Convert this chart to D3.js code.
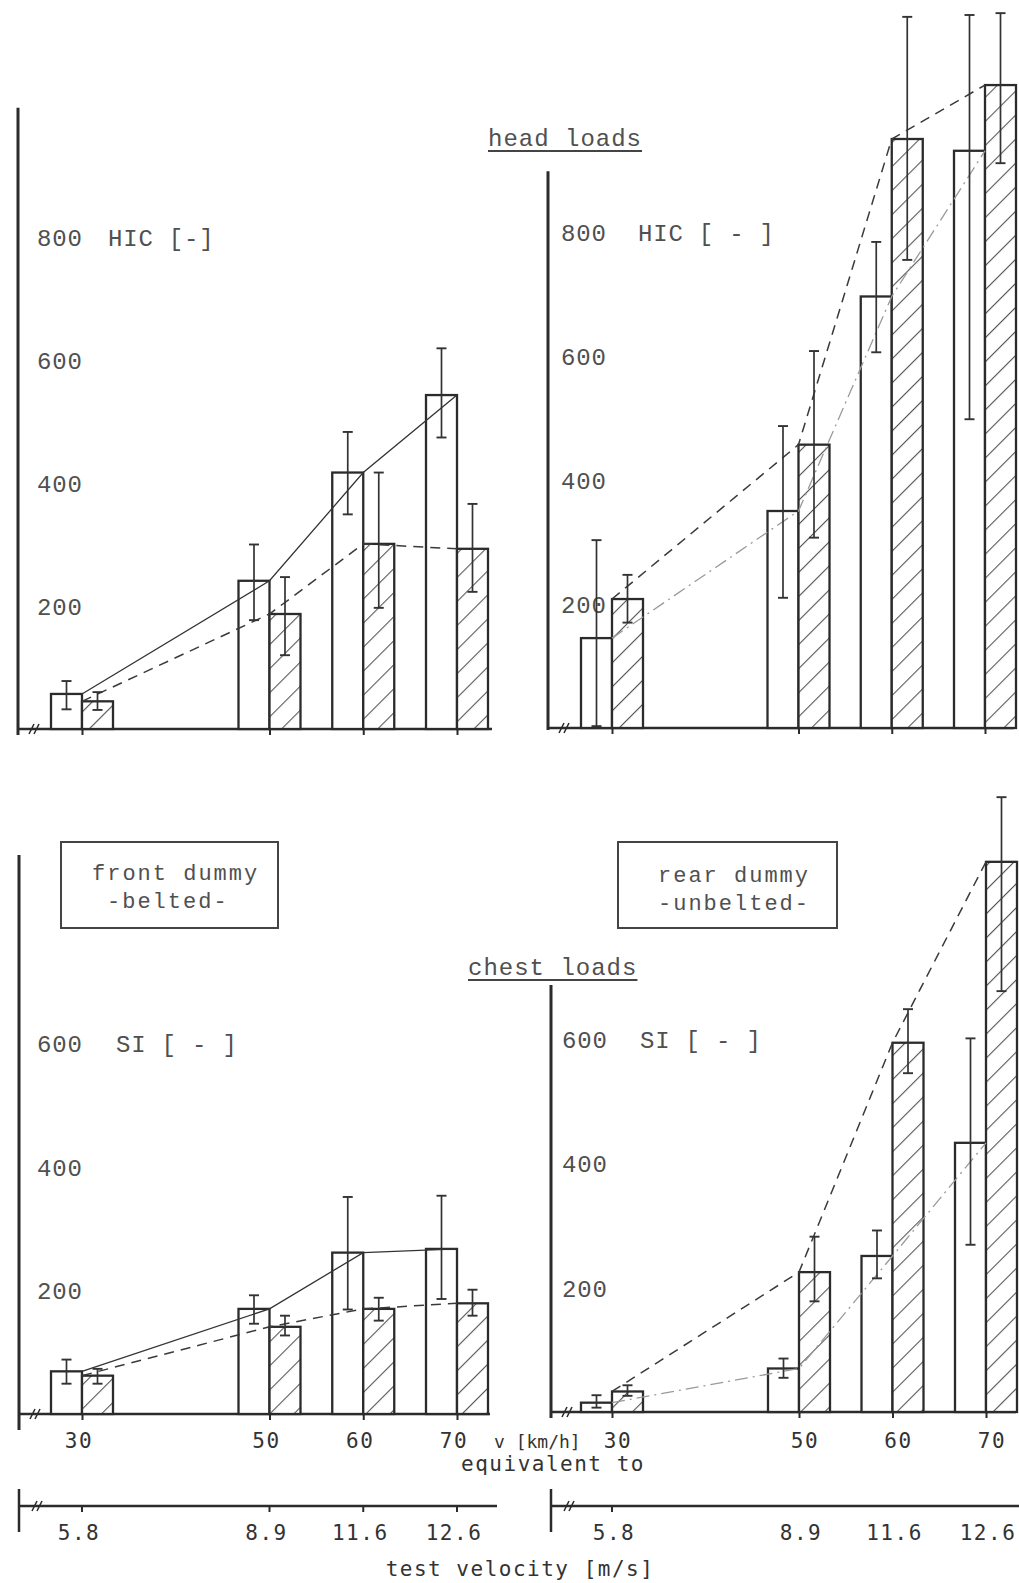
<!DOCTYPE html>
<html><head><meta charset="utf-8">
<script src="https://cdn.jsdelivr.net/npm/d3@7"></script>
<style>
html,body{margin:0;padding:0;background:#fff;}
svg{display:block;}
</style></head><body>
<svg id="chart" width="1019" height="1583"></svg>
<script>
// ---- data -------------------------------------------------------------
const speeds = [30, 50, 60, 70];              // impact speed, km/h
const speedLabels = ["30", "50", "60", "70"];
const mpsLabels = ["5.8", "8.9", "11.6", "12.6"]; // test velocity, m/s
const hicTicks = [200, 400, 600, 800];
const siTicks = [200, 400, 600];

// HIC, front dummy (belted)
const hicFrontOpen        = [57, 241, 417, 543];
const hicFrontOpenLow     = [32, 177, 349, 474];
const hicFrontOpenHigh    = [78, 300, 483, 619];
const hicFrontHatched     = [45, 187, 301, 293];
const hicFrontHatchedLow  = [31, 120, 197, 223];
const hicFrontHatchedHigh = [60, 247, 417, 366];

// HIC, rear dummy (unbelted)
const hicRearOpen        = [145, 350, 696, 931];
const hicRearOpenLow     = [3, 210, 606, 498];
const hicRearOpenHigh    = [303, 487, 784, 1150];
const hicRearHatched     = [208, 457, 950, 1037];
const hicRearHatchedLow  = [170, 307, 755, 911];
const hicRearHatchedHigh = [247, 608, 1147, 1153];

// SI, front dummy (belted)
const siFrontOpen        = [69, 170, 261, 267];
const siFrontOpenLow     = [49, 146, 169, 186];
const siFrontOpenHigh    = [88, 192, 351, 353];
const siFrontHatched     = [62, 141, 170, 179];
const siFrontHatchedLow  = [49, 127, 151, 159];
const siFrontHatchedHigh = [73, 159, 188, 201];

// SI, rear dummy (unbelted)
const siRearOpen        = [15, 70, 251, 433];
const siRearOpenLow     = [7, 55, 215, 269];
const siRearOpenHigh    = [27, 86, 292, 601];
const siRearHatched     = [33, 225, 594, 885];
const siRearHatchedLow  = [26, 178, 545, 677];
const siRearHatchedHigh = [43, 282, 648, 989];

// ---- drawing ----------------------------------------------------------
const INK = "#2b2b2b";
const TEXT = "#505050";
const MONO = "'Liberation Mono', 'Courier New', monospace";
const MONO2 = "'DejaVu Sans Mono', monospace";
const BAR_W = 31;

const svg = d3.select("#chart");

// diagonal hatching for the second bar of each pair
const defs = svg.append("defs");
const pat = defs.append("pattern")
  .attr("id", "hatch").attr("patternUnits", "userSpaceOnUse")
  .attr("width", 17).attr("height", 17)
  .attr("patternTransform", "rotate(45)");
pat.append("rect").attr("width", 17).attr("height", 17).attr("fill", "#fff");
pat.append("line").attr("x1", 0).attr("y1", 0).attr("x2", 0).attr("y2", 17)
  .attr("stroke", "#555").attr("stroke-width", 2.2);

const styles = {
  solid:   {stroke: "#333", width: 1.3, dash: null},
  dashed:  {stroke: "#3a3a3a", width: 1.5, dash: "10,7"},
  dashdot: {stroke: "#9a9a9a", width: 1.3, dash: "13,5,2,5"}
};

const panels = [
  { axisX: 18, axisTop: 1010, axisBottomPad: 6, xEnd: 492, xRange: [82, 457],
    yDomain: [0, 800], yRange: [729, 237], ticks: hicTicks,
    labelX: 37, unit: "HIC [-]", unitX: 108,
    open: [hicFrontOpen, hicFrontOpenLow, hicFrontOpenHigh],
    hatched: [hicFrontHatched, hicFrontHatchedLow, hicFrontHatchedHigh],
    openLine: "solid", hatchedLine: "dashed" },
  { axisX: 548, axisTop: 898, axisBottomPad: 2, xEnd: 1014, xRange: [612, 985],
    yDomain: [0, 800], yRange: [728, 232], ticks: hicTicks,
    labelX: 561, unit: "HIC [ - ]", unitX: 638,
    open: [hicRearOpen, hicRearOpenLow, hicRearOpenHigh],
    hatched: [hicRearHatched, hicRearHatchedLow, hicRearHatchedHigh],
    openLine: "dashdot", hatchedLine: "dashed" },
  { axisX: 19, axisTop: 904, axisBottomPad: 16, xEnd: 490, xRange: [82, 457],
    yDomain: [0, 600], yRange: [1414, 1043], ticks: siTicks,
    labelX: 37, unit: "SI [ - ]", unitX: 116,
    open: [siFrontOpen, siFrontOpenLow, siFrontOpenHigh],
    hatched: [siFrontHatched, siFrontHatchedLow, siFrontHatchedHigh],
    openLine: "solid", hatchedLine: "dashed" },
  { axisX: 551, axisTop: 687, axisBottomPad: 6, xEnd: 1016, xRange: [612, 986],
    yDomain: [0, 600], yRange: [1412, 1039], ticks: siTicks,
    labelX: 562, unit: "SI [ - ]", unitX: 640,
    open: [siRearOpen, siRearOpenLow, siRearOpenHigh],
    hatched: [siRearHatched, siRearHatchedLow, siRearHatchedHigh],
    openLine: "dashdot", hatchedLine: "dashed" }
];

function breakMark(g, x, y) {
  [0, 5].forEach(d => {
    g.append("line").attr("x1", x + d - 3).attr("y1", y + 5)
      .attr("x2", x + d + 2).attr("y2", y - 5)
      .attr("stroke", INK).attr("stroke-width", 1.6);
  });
}

panels.forEach(p => {
  const x = d3.scaleLinear().domain([30, 70]).range(p.xRange);
  const y = d3.scaleLinear().domain(p.yDomain).range(p.yRange);
  const g = svg.append("g");
  const y0 = y(0);

  // y axis: ticks to the left, labels to the right of the line
  const ax = g.append("g").attr("transform", `translate(${p.axisX},0)`)
    .call(d3.axisLeft(y).tickValues(p.ticks).tickSize(9).tickFormat(d3.format("d")));
  ax.select(".domain").remove();
  ax.selectAll(".tick line").attr("stroke", INK).attr("stroke-width", 3).attr("x2", -1);
  ax.selectAll(".tick text")
    .attr("x", p.labelX - p.axisX).attr("dy", "0.36em")
    .attr("text-anchor", "start")
    .attr("font-family", MONO).attr("font-size", 24).attr("letter-spacing", 0.8)
    .attr("fill", TEXT);
  g.append("line")
    .attr("x1", p.axisX).attr("x2", p.axisX)
    .attr("y1", y(p.axisTop)).attr("y2", y0 + p.axisBottomPad)
    .attr("stroke", INK).attr("stroke-width", 3);
  g.append("text")
    .attr("x", p.unitX).attr("y", y(p.ticks[p.ticks.length - 1])).attr("dy", "0.36em")
    .attr("font-family", MONO).attr("font-size", 24).attr("letter-spacing", 0.8)
    .attr("fill", TEXT)
    .attr("xml:space", "preserve").text(p.unit);

  // baseline with speed ticks
  const bx = g.append("g").attr("transform", `translate(0,${y0})`)
    .call(d3.axisBottom(x).tickValues(speeds).tickSize(6).tickFormat(""));
  bx.select(".domain").remove();
  bx.selectAll(".tick line").attr("stroke", INK).attr("stroke-width", 2);
  g.append("line").attr("x1", p.axisX).attr("x2", p.xEnd)
    .attr("y1", y0).attr("y2", y0).attr("stroke", INK).attr("stroke-width", 2.6);
  breakMark(g, p.axisX + 14, y0);

  // bars
  const rows = speeds.map((s, i) => ({
    s,
    o: p.open[0][i], oLo: p.open[1][i], oHi: p.open[2][i],
    h: p.hatched[0][i], hLo: p.hatched[1][i], hHi: p.hatched[2][i]
  }));
  g.selectAll(".barO").data(rows).join("rect")
    .attr("x", d => x(d.s) - BAR_W).attr("width", BAR_W)
    .attr("y", d => y(d.o)).attr("height", d => y0 - y(d.o))
    .attr("fill", "#fff").attr("stroke", INK).attr("stroke-width", 2.3);
  g.selectAll(".barH").data(rows).join("rect")
    .attr("x", d => x(d.s)).attr("width", BAR_W)
    .attr("y", d => y(d.h)).attr("height", d => y0 - y(d.h))
    .attr("fill", "url(#hatch)").attr("stroke", INK).attr("stroke-width", 2.3);

  // connecting lines through the bar tops
  const drawLine = (key, style) => {
    const st = styles[style];
    g.append("path").datum(rows)
      .attr("d", d3.line().x(d => x(d.s)).y(d => y(d[key])))
      .attr("fill", "none").attr("stroke", st.stroke)
      .attr("stroke-width", st.width).attr("stroke-dasharray", st.dash);
  };
  drawLine("o", p.openLine);
  drawLine("h", p.hatchedLine);

  // error bars
  const err = (cx, lo, hi) => {
    g.append("line").attr("x1", cx).attr("x2", cx).attr("y1", y(lo)).attr("y2", y(hi))
      .attr("stroke", "#333").attr("stroke-width", 1.7);
    [lo, hi].forEach(v => g.append("line")
      .attr("x1", cx - 5).attr("x2", cx + 5).attr("y1", y(v)).attr("y2", y(v))
      .attr("stroke", "#333").attr("stroke-width", 1.9));
  };
  rows.forEach(d => {
    err(x(d.s) - BAR_W / 2, d.oLo, d.oHi);
    err(x(d.s) + BAR_W / 2, d.hLo, d.hHi);
  });
});

// panel titles
function underlined(text, x, y) {
  const t = svg.append("text").attr("x", x).attr("y", y)
    .attr("font-family", MONO).attr("font-size", 24).attr("letter-spacing", 1)
    .attr("fill", TEXT).text(text);
  const w = t.node().getComputedTextLength();
  svg.append("line").attr("x1", x).attr("x2", x + w).attr("y1", y + 5).attr("y2", y + 5)
    .attr("stroke", "#444").attr("stroke-width", 2);
}
underlined("head loads", 488, 146);
underlined("chest loads", 468, 975);

// occupant boxes
function box(x, y, w, h, lines) {
  svg.append("rect").attr("x", x).attr("y", y).attr("width", w).attr("height", h)
    .attr("fill", "none").attr("stroke", "#444").attr("stroke-width", 2);
  lines.forEach(l => svg.append("text").attr("x", l[0]).attr("y", l[1])
    .attr("font-family", MONO).attr("font-size", 22).attr("letter-spacing", 2)
    .attr("fill", TEXT).text(l[2]));
}
box(61, 842, 217, 86, [[92, 880, "front dummy"], [107, 908, "-belted-"]]);
box(618, 842, 219, 86, [[658, 882, "rear dummy"], [658, 910, "-unbelted-"]]);

// speed labels under the chest panels
const xLeft = d3.scaleLinear().domain([30, 70]).range([82, 457]);
const xRight = d3.scaleLinear().domain([30, 70]).range([612, 986]);
const lab = (x, y, t, anchor, size, spacing) => svg.append("text").attr("x", x).attr("y", y)
  .attr("text-anchor", anchor || "middle")
  .attr("font-family", MONO2).attr("font-size", size || 21)
  .attr("letter-spacing", spacing === undefined ? 1.5 : spacing)
  .attr("fill", "#333").text(t);
speeds.forEach((s, i) => {
  lab(xLeft(s) - 3, 1448, speedLabels[i]);
  lab(xRight(s) + 6, 1448, speedLabels[i]);
});
lab(494, 1448, "v [km/h]", "start", 18, 0);
lab(553, 1471, "equivalent to");

// m/s scales
function velAxis(x0, x1, yl, scale, tickAt) {
  const g = svg.append("g");
  g.append("line").attr("x1", x0).attr("x2", x0).attr("y1", yl - 17).attr("y2", yl + 26)
    .attr("stroke", INK).attr("stroke-width", 2.5);
  g.append("line").attr("x1", x0).attr("x2", x1).attr("y1", yl).attr("y2", yl)
    .attr("stroke", INK).attr("stroke-width", 2.6);
  breakMark(g, x0 + 16, yl);
  tickAt.forEach(s => g.append("line").attr("x1", scale(s)).attr("x2", scale(s))
    .attr("y1", yl).attr("y2", yl + 6).attr("stroke", INK).attr("stroke-width", 2));
}
velAxis(19, 497, 1506, xLeft, speeds);
velAxis(551, 1019, 1506, xRight, [30]);
speeds.forEach((s, i) => {
  lab(xLeft(s) - 3, 1540, mpsLabels[i]);
  lab(xRight(s) + 2, 1540, mpsLabels[i]);
});
lab(520, 1576, "test velocity [m/s]");
</script>
</body></html>
